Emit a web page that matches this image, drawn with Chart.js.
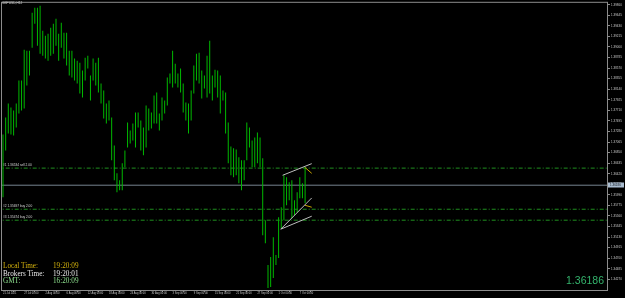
<!DOCTYPE html>
<html>
<head>
<meta charset="utf-8">
<title>GBPUSD,H12</title>
<script src="https://cdn.jsdelivr.net/npm/chart.js@4.4.1/dist/chart.umd.min.js"></script>
<style>
  html, body { margin: 0; padding: 0; background: #000; }
  #wrap { position: relative; width: 625px; height: 298px; overflow: hidden; background: #000; }
  #chart { position: absolute; left: 0; top: 0; }
  .tiny { position: absolute; font: 8px Arial, sans-serif; color: #d8d8d8; transform-origin: 0 0; transform: scale(0.4); white-space: nowrap; line-height: 8px; }
  .clock { position: absolute; font: 7.2px "Liberation Serif", "Times New Roman", serif; line-height: 8px; white-space: nowrap; }
  .local { color: #d4b20c; }
  .broker { color: #e8e8e8; }
  .gmt { color: #8ee08e; }
  #bigPrice { position: absolute; right: 21px; top: 274px; font: 10.5px Arial, "Liberation Sans", sans-serif; color: #34b36c; line-height: 12px; }
</style>
</head>
<body>
<div id="wrap">
  <canvas id="chart" width="625" height="298"></canvas>
  <div class="tiny" id="symbol" style="left:2px; top:1.5px;">GBPUSD,H12</div>
  <div class="tiny" style="left:3px; top:164px;">#1 1.36534 sell 2.00</div>
  <div class="tiny" style="left:3px; top:205px;">#2 1.35697 buy 2.00</div>
  <div class="tiny" style="left:3px; top:216px;">#3 1.35474 buy 2.00</div>
  <div class="clock local" style="left:3px; top:262px;">Local Time:</div>
  <div class="clock local" style="left:53px; top:262px;">19:20:09</div>
  <div class="clock broker" style="left:3px; top:270px;">Brokers Time:</div>
  <div class="clock broker" style="left:53px; top:270px;">19:20:01</div>
  <div class="clock gmt" style="left:3px; top:277px;">GMT:</div>
  <div class="clock gmt" style="left:53px; top:277px;">16:20:09</div>
  <div id="bigPrice">1.36186</div>
</div>
<script>
  // ---- data ----
  const barHighs = [
    1.37220, 1.37565, 1.37849, 1.37768, 1.37707, 1.37849, 1.38316, 1.38316, 1.38945, 1.38925,
    1.38925, 1.39696, 1.39798, 1.39798, 1.39839, 1.39331, 1.39230, 1.39270, 1.39392, 1.39473,
    1.39575, 1.39270, 1.39493, 1.39290, 1.39290, 1.38925, 1.38925, 1.38763, 1.38722, 1.38681,
    1.38519, 1.38783, 1.38824, 1.38418, 1.38763, 1.38681, 1.38783, 1.38255, 1.38113, 1.37849,
    1.37910, 1.37565, 1.36997, 1.36428, 1.36286, 1.36631, 1.36895, 1.37463, 1.37301, 1.37443,
    1.37666, 1.37666, 1.37504, 1.37362, 1.37809, 1.37748, 1.37666, 1.38012, 1.38072, 1.37646,
    1.37971, 1.37910, 1.38377, 1.38458, 1.38925, 1.38661, 1.38458, 1.38560, 1.38255, 1.37869,
    1.37849, 1.38113, 1.38621, 1.38864, 1.38884, 1.38519, 1.38418, 1.38824, 1.39128, 1.38418,
    1.38539, 1.38519, 1.38418, 1.38113, 1.38072, 1.37463, 1.36976, 1.36936, 1.36915, 1.36753,
    1.36692, 1.36692, 1.37463, 1.37362, 1.37098, 1.37159, 1.37260, 1.37159, 1.36733, 1.35474,
    1.34561, 1.34723, 1.35129, 1.34764, 1.35535, 1.35738, 1.36388, 1.36347, 1.36245, 1.36286,
    1.35880, 1.36042, 1.36347, 1.36225, 1.36550
  ];
  const barLows = [
    1.35941, 1.36895, 1.37240, 1.37220, 1.37200, 1.37362, 1.37646, 1.37707, 1.37748, 1.38215,
    1.38418, 1.38986, 1.39473, 1.39027, 1.38864, 1.38824, 1.38763, 1.38722, 1.38824, 1.38864,
    1.39027, 1.38722, 1.38986, 1.38763, 1.38621, 1.38418, 1.38377, 1.38316, 1.38255, 1.38052,
    1.37971, 1.38316, 1.38560, 1.37910, 1.38316, 1.38215, 1.38072, 1.37849, 1.37545, 1.37443,
    1.37504, 1.36692, 1.36286, 1.36042, 1.36083, 1.36083, 1.36550, 1.36956, 1.37037, 1.37098,
    1.36956, 1.37362, 1.36895, 1.36794, 1.36956, 1.37301, 1.37342, 1.37443, 1.37443, 1.37301,
    1.37504, 1.37646, 1.37809, 1.38255, 1.38174, 1.38255, 1.38174, 1.38072, 1.37666, 1.37504,
    1.37240, 1.37504, 1.38052, 1.38316, 1.38255, 1.37951, 1.38154, 1.37971, 1.38052, 1.37910,
    1.38174, 1.37971, 1.37646, 1.37910, 1.37240, 1.36631, 1.36388, 1.36347, 1.36388, 1.36225,
    1.36083, 1.36286, 1.36692, 1.36956, 1.36550, 1.36550, 1.36631, 1.36550, 1.35170, 1.35007,
    1.34094, 1.34114, 1.34297, 1.34561, 1.34703, 1.35312, 1.35474, 1.35779, 1.35880, 1.35515,
    1.35576, 1.35636, 1.35921, 1.35921, 1.35819
  ];

  const priceTicks = [
    1.39860, 1.39645, 1.39430, 1.39215, 1.39000, 1.38785, 1.38570, 1.38355, 1.38140, 1.37925,
    1.37710, 1.37495, 1.37280, 1.37065, 1.36850, 1.36635, 1.36420, 1.36205, 1.35990, 1.35775,
    1.35560, 1.35345, 1.35130, 1.34915, 1.34700, 1.34485, 1.34270
  ];
  const dateTickBars = [0, 8, 16, 24, 32, 40, 48, 56, 64, 72, 80, 88, 96, 104, 112];
  const dateLabels = [
    '21 Jul 2021', '27 Jul 00:00', '2 Aug 00:00', '6 Aug 00:00', '12 Aug 00:00',
    '18 Aug 00:00', '24 Aug 00:00', '30 Aug 00:00', '3 Sep 00:00', '9 Sep 00:00',
    '15 Sep 00:00', '21 Sep 00:00', '27 Sep 00:00', '1 Oct 00:00', '7 Oct 00:00'
  ];

  const bidPrice = 1.36186;
  const orderPrices = [1.36534, 1.35697, 1.35474];

  // channel drawn on the chart: [bar, price] pairs
  const channelUpper = [[105.5, 1.36388], [116.5, 1.36625]];
  const channelMiddle = [[104.8, 1.35291], [116.5, 1.35927]];
  const channelLower = [[104.8, 1.35291], [116.5, 1.35555]];
  const arrowSell = [[113.9, 1.36550], [116.5, 1.36428]];
  const arrowBuy = [[113.9, 1.35779], [116.5, 1.35738]];

  // ---- view window (matches MT4 zoom) ----
  const X_MIN = -0.377, X_MAX = 227.92;
  const Y_MIN = 1.34053, Y_MAX = 1.398994;

  const toPts = arr => arr.map(p => ({ x: p[0], y: p[1] }));
  const hline = y => [{ x: X_MIN - 2, y }, { x: X_MAX + 2, y }];

  const frame = {
    id: 'frame',
    beforeDatasetsDraw(chart) {
      const { ctx, chartArea: a } = chart;
      ctx.save();
      ctx.strokeStyle = '#8c8c8c';
      ctx.lineWidth = 1;
      ctx.strokeRect(a.left - 0.5, a.top - 0.5, a.right - a.left + 1, a.bottom - a.top + 1);
      ctx.restore();
    },
    afterDraw(chart) {
      // bid price tag on the price scale
      const { ctx, chartArea: a } = chart;
      const y = Math.round(chart.scales.y.getPixelForValue(bidPrice));
      ctx.save();
      ctx.fillStyle = '#a9bccf';
      ctx.fillRect(a.right + 1, y - 2.5, 16, 5);
      ctx.fillStyle = '#10141a';
      ctx.font = '3px Arial';
      ctx.textBaseline = 'middle';
      ctx.fillText(bidPrice.toFixed(5), a.right + 3, y);
      ctx.restore();
    }
  };

  new Chart(document.getElementById('chart'), {
    data: {
      datasets: [
        {
          type: 'bar',
          data: barHighs.map((h, i) => ({ x: i, y: [barLows[i], h] })),
          backgroundColor: '#00b800',
          borderWidth: 0,
          barThickness: 1,
          inflateAmount: 0,
          grouped: false,
          order: 1
        },
        ...orderPrices.map(p => ({
          type: 'line', data: hline(p), borderColor: '#1f8f1f', borderWidth: 1,
          borderDash: [4, 2, 1, 2], pointRadius: 0, order: 3
        })),
        { type: 'line', data: hline(bidPrice), borderColor: '#76838f', borderWidth: 1, pointRadius: 0, order: 2 },
        { type: 'line', data: toPts(channelUpper), borderColor: '#bdbdbd', borderWidth: 1, pointRadius: 0, order: 0 },
        { type: 'line', data: toPts(channelMiddle), borderColor: '#bdbdbd', borderWidth: 1, pointRadius: 0, order: 0 },
        { type: 'line', data: toPts(channelLower), borderColor: '#bdbdbd', borderWidth: 1, pointRadius: 0, order: 0 },
        { type: 'line', data: toPts(arrowSell), borderColor: '#c9a400', borderWidth: 1, pointRadius: 0, order: 0 },
        { type: 'line', data: toPts(arrowBuy), borderColor: '#c9a400', borderWidth: 1, pointRadius: 0, order: 0 }
      ]
    },
    options: {
      responsive: false,
      animation: false,
      devicePixelRatio: 1,
      layout: { padding: { left: 2, top: 2, right: 0, bottom: 0 } },
      plugins: { legend: { display: false }, tooltip: { enabled: false } },
      scales: {
        x: {
          type: 'linear', min: X_MIN, max: X_MAX, offset: false,
          grid: { drawOnChartArea: false, drawTicks: true, tickLength: 2, color: '#8c8c8c' },
          border: { display: true, color: '#8c8c8c' },
          afterBuildTicks: s => { s.ticks = dateTickBars.map(v => ({ value: v })); },
          afterFit: s => { s.height = 8; },
          ticks: {
            autoSkip: false, maxRotation: 0, minRotation: 0, align: 'start', padding: 0,
            color: '#c8c8c8', font: { size: 2.6, family: 'Arial' },
            callback: (v, i) => dateLabels[i]
          }
        },
        y: {
          type: 'linear', position: 'right', min: Y_MIN, max: Y_MAX,
          grid: { drawOnChartArea: false, drawTicks: true, tickLength: 3, color: '#8c8c8c' },
          border: { display: true, color: '#8c8c8c' },
          afterBuildTicks: s => { s.ticks = priceTicks.map(v => ({ value: v })); },
          afterFit: s => { s.width = 18; },
          ticks: {
            autoSkip: false, padding: 1, color: '#c8c8c8', font: { size: 3, family: 'Arial' },
            callback: v => v.toFixed(5)
          }
        }
      }
    },
    plugins: [frame]
  });
</script>
</body>
</html>
